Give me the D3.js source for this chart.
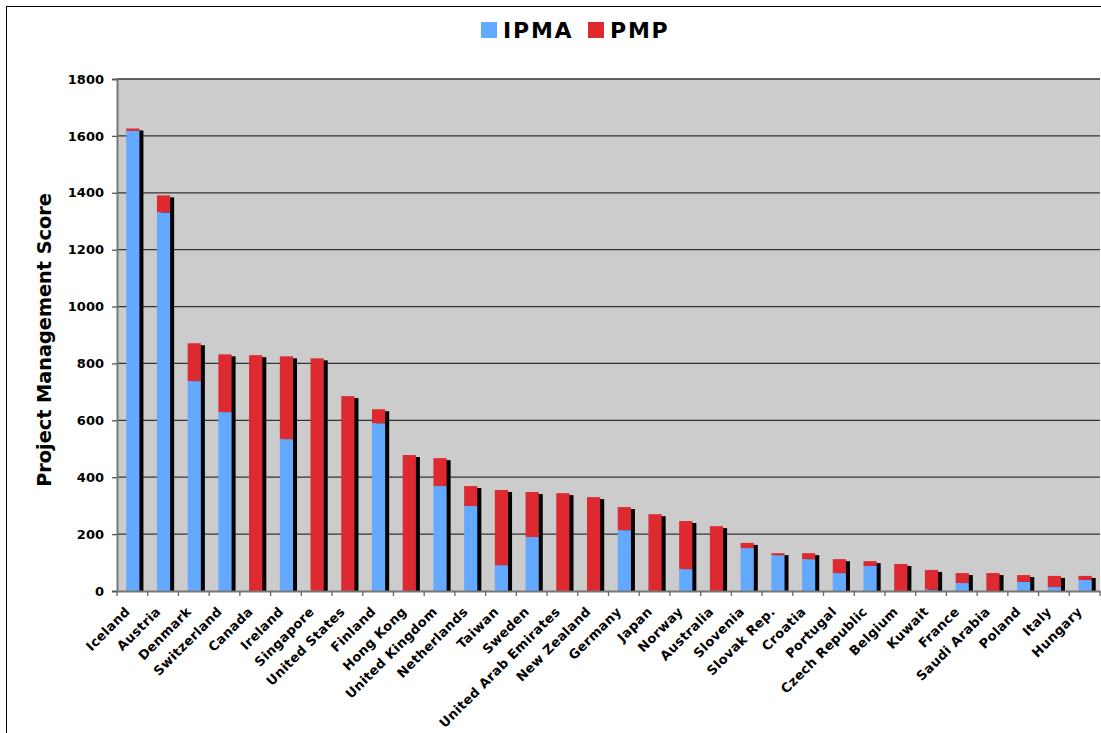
<!DOCTYPE html>
<html><head><meta charset="utf-8">
<script src="https://cdn.jsdelivr.net/npm/d3@7"></script>
<style>body{margin:0;background:#fff}svg{display:block}</style>
</head><body><svg id="c" width="1101" height="733"></svg>
<script>
const countries = ["Iceland","Austria","Denmark","Switzerland","Canada","Ireland","Singapore","United States","Finland","Hong Kong","United Kingdom","Netherlands","Taiwan","Sweden","United Arab Emirates","New Zealand","Germany","Japan","Norway","Australia","Slovenia","Slovak Rep.","Croatia","Portugal","Czech Republic","Belgium","Kuwait","France","Saudi Arabia","Poland","Italy","Hungary"];
const ipma = [1618,1331,738,629,0,534,0,0,590,0,369,299,91,190,0,0,214,0,77,0,151,126,112,63,88,0,5,28,0,32,14,39];
const pmp  = [8,60,133,203,829,291,818,685,49,478,98,70,264,158,344,330,81,270,169,228,18,7,21,49,17,95,69,35,63,24,39,14];
const yTicks = [0,200,400,600,800,1000,1200,1400,1600,1800];
const seriesNames = ["IPMA","PMP"];
const colors = {IPMA:"#63A9FF", PMP:"#DD2A31"};

const svg = d3.select("#c");
const m = {l:117, r:1100, t:79, b:591};
svg.append("rect").attr("x",6.5).attr("y",6.5).attr("width",1100).attr("height",730)
  .attr("fill","none").attr("stroke","#000").attr("stroke-width",1);

const x = d3.scaleBand().domain(countries).range([m.l, m.r]).padding(0);
const y = d3.scaleLinear().domain([0,1800]).range([m.b, m.t]);

svg.append("rect").attr("x",m.l).attr("y",m.t).attr("width",m.r-m.l).attr("height",m.b-m.t).attr("fill","#CCCCCC");

svg.append("g").selectAll("line").data(yTicks.filter(d=>d>0)).join("line")
  .attr("x1",m.l).attr("x2",m.r).attr("y1",d=>y(d)).attr("y2",d=>y(d))
  .attr("stroke","#333").attr("stroke-width",1.3);

const bw = x.bandwidth()*0.43;
const off = x.bandwidth()*0.30;
const data = countries.map((c,i)=>({c, a:ipma[i], b:pmp[i], t:ipma[i]+pmp[i]}));
const g = svg.append("g");
g.selectAll(".sh").data(data).join("rect")
  .attr("x",d=>x(d.c)+off+4).attr("width",bw)
  .attr("y",d=>y(d.t)+2).attr("height",d=>m.b-y(d.t)-2).attr("fill","#000");
g.selectAll(".pa").data(data).join("rect")
  .attr("x",d=>x(d.c)+off).attr("width",bw)
  .attr("y",d=>y(d.a)).attr("height",d=>m.b-y(d.a)).attr("fill",colors.IPMA);
g.selectAll(".pb").data(data).join("rect")
  .attr("x",d=>x(d.c)+off).attr("width",bw)
  .attr("y",d=>y(d.t)).attr("height",d=>y(d.a)-y(d.t)).attr("fill",colors.PMP);

const ya = svg.append("g").attr("transform",`translate(${m.l},0)`)
  .call(d3.axisLeft(y).tickValues(yTicks).tickSize(5).tickPadding(8).tickFormat(d3.format("d")));
ya.select(".domain").attr("stroke","#777").attr("stroke-width",2);
ya.selectAll(".tick line").attr("stroke","#555").attr("stroke-width",1.3);
ya.selectAll("text").attr("font-family","DejaVu Sans").attr("font-weight","bold").attr("font-size",13).attr("fill","#000");

const xa = svg.append("g").attr("transform",`translate(0,${m.b})`)
  .call(d3.axisBottom(x).tickSize(0).tickFormat(""));
xa.select(".domain").attr("stroke","#777").attr("stroke-width",2);
const bounds = countries.map(c=>x(c)).concat([m.r]);
xa.selectAll(".bt").data(bounds).join("line")
  .attr("x1",d=>d).attr("x2",d=>d).attr("y1",0).attr("y2",5).attr("stroke","#666").attr("stroke-width",1.3);
svg.append("g").selectAll("text").data(countries).join("text")
  .attr("transform",d=>`translate(${x(d)+x.bandwidth()/2-8},${m.b+15}) rotate(-45)`)
  .attr("text-anchor","end").attr("dy","0.7em")
  .attr("font-family","DejaVu Sans").attr("font-weight","bold").attr("font-size",13)
  .attr("letter-spacing",0.35)
  .text(d=>d);

svg.append("text").attr("transform",`translate(51,340) rotate(-90)`)
  .attr("text-anchor","middle").attr("font-family","DejaVu Sans").attr("font-weight","bold")
  .attr("font-size",19.3).text("Project Management Score");

const leg = svg.append("g");
const lx = [481, 588];
seriesNames.forEach((s,i)=>{
  leg.append("rect").attr("x",lx[i]).attr("y",22).attr("width",16).attr("height",16).attr("fill",colors[s]);
  leg.append("text").attr("x",lx[i]+22).attr("y",38).attr("font-family","DejaVu Sans").attr("font-weight","bold")
    .attr("letter-spacing",1.8).attr("font-size",22).text(s);
});
</script></body></html>
